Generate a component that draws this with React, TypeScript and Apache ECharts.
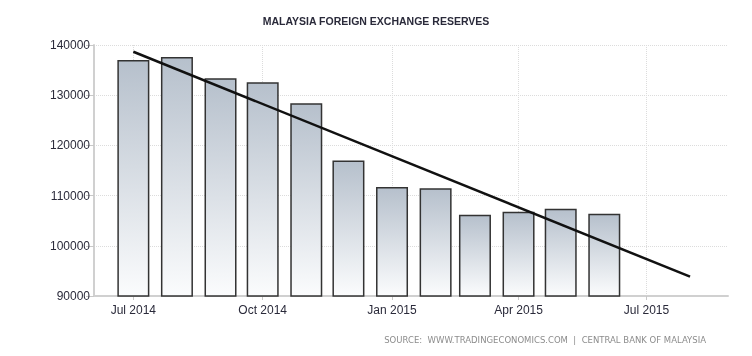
import React, { useEffect, useRef } from "react";
import * as echarts from "echarts";

const months = [
  "2014-07-01", "2014-08-01", "2014-09-01", "2014-10-01", "2014-11-01", "2014-12-01",
  "2015-01-01", "2015-02-01", "2015-03-01", "2015-04-01", "2015-05-01", "2015-06-01",
];
const reserves = [137000, 137600, 133400, 132600, 128400, 117000, 111700, 111450, 106200, 106800, 107400, 106400];
const trendDates = ["2014-07-01", "2015-08-01"];
const trendValues = [138650, 93850];
const tickDates = ["2014-07-01", "2014-10-01", "2015-01-01", "2015-04-01", "2015-07-01"];
const monthNames = ["Jan", "Feb", "Mar", "Apr", "May", "Jun", "Jul", "Aug", "Sep", "Oct", "Nov", "Dec"];

const ts = (s: string) => {
  const [y, m, d] = s.split("-").map(Number);
  return Date.UTC(y, m - 1, d);
};

export default function App() {
  const ref = useRef<HTMLDivElement>(null);
  useEffect(() => {
    if (!ref.current) return;
    const chart = echarts.init(ref.current, undefined, { renderer: "svg" });
    const ticks = tickDates.map(ts);
    const font = "'Liberation Sans', Arial, sans-serif";
    chart.setOption({
      animation: false,
      title: {
        text: "MALAYSIA FOREIGN EXCHANGE RESERVES",
        left: "center",
        top: 10,
        textStyle: { fontSize: 10.5, fontWeight: "bold", color: "#2a2a3a", fontFamily: font },
      },
      graphic: [
        {
          type: "text",
          right: 46,
          top: 335,
          style: {
            text: "SOURCE:  WWW.TRADINGECONOMICS.COM  |  CENTRAL BANK OF MALAYSIA",
            fontSize: 8.5,
            fontFamily: "'DejaVu Sans', sans-serif",
            fill: "#8c8c8c",
          },
        },
      ],
      grid: { left: 94, right: 24, top: 45, bottom: 60 },
      xAxis: {
        type: "value",
        min: ts("2014-06-03"),
        max: ts("2015-08-28"),
        axisLine: { show: true, lineStyle: { color: "#d0d0d0", width: 2 } },
        axisTick: { show: true, customValues: ticks, length: 4, lineStyle: { color: "#c8c8c8" } },
        axisLabel: {
          customValues: ticks,
          color: "#2a2a3a",
          fontSize: 12,
          fontFamily: font,
          margin: 8,
          formatter: (v: number) => {
            const d = new Date(v);
            return monthNames[d.getUTCMonth()] + " " + d.getUTCFullYear();
          },
        },
        splitLine: { show: true, customValues: ticks, lineStyle: { color: "#dcdcdc", type: "dotted" } },
      },
      yAxis: {
        type: "value",
        min: 90000,
        max: 140000,
        interval: 10000,
        axisLine: { show: true, lineStyle: { color: "#d0d0d0", width: 2 } },
        axisTick: { show: true, length: 8, lineStyle: { color: "#c8c8c8" } },
        axisLabel: {
          color: "#2a2a3a",
          fontSize: 12,
          fontFamily: font,
          margin: 4,
          formatter: (v: number) => String(v),
        },
        splitLine: { show: true, lineStyle: { color: "#dcdcdc", type: "dotted" } },
      },
      series: [
        {
          type: "bar",
          barWidth: 32,
          data: months.map((m, i) => [ts(m), reserves[i]]),
          itemStyle: {
            color: {
              type: "linear", x: 0, y: 0, x2: 0, y2: 1,
              colorStops: [
                { offset: 0, color: "#b6c0cc" },
                { offset: 1, color: "#fbfcfd" },
              ],
            },
            borderColor: "#333333",
            borderWidth: 1.5,
          },
        },
        {
          type: "line",
          symbol: "none",
          data: trendDates.map((d, i) => [ts(d), trendValues[i]]),
          lineStyle: { color: "#111111", width: 2.5 },
        },
      ],
    });
    return () => chart.dispose();
  }, []);
  return <div ref={ref} style={{ position: "fixed", left: 0, top: 0, width: 752, height: 356 }} />;
}
